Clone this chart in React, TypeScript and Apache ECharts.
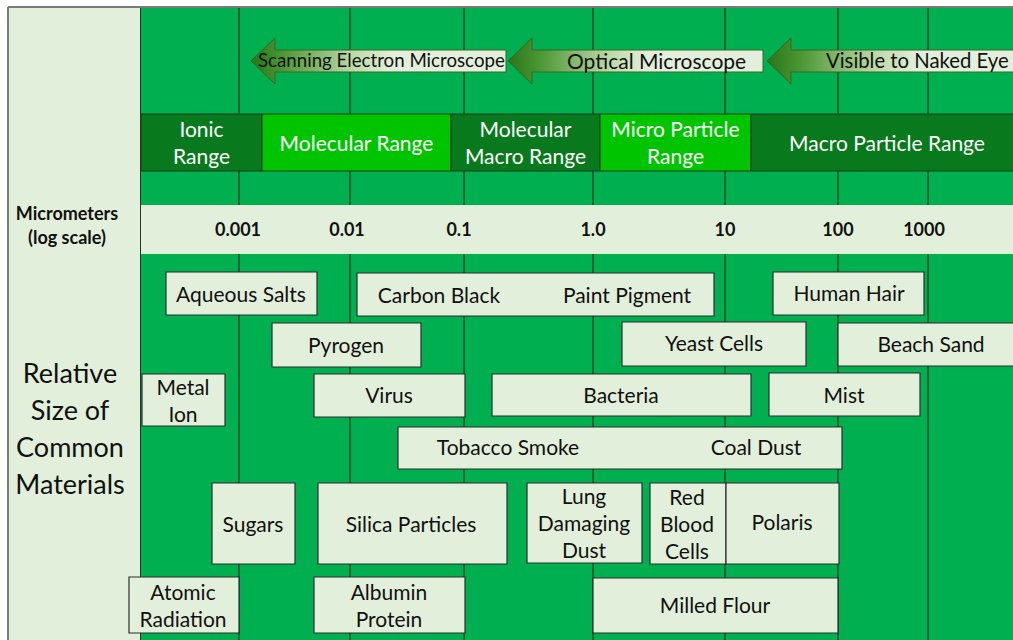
import React, { useEffect, useRef } from "react";
import * as echarts from "echarts";

// ---- Scale (micrometers, log scale) ----
const tickLabels = ["0.001", "0.01", "0.1", "1.0", "10", "100", "1000"];
const gridLineX = [239, 350, 464, 593, 725, 838, 928];
const tickLabelX = [238, 347, 459, 593, 725, 838, 924];

// ---- Size ranges ----
const rangeNames = ["Ionic\nRange", "Molecular Range", "Molecular\nMacro Range", "Micro Particle\nRange", "Macro Particle Range"];
const rangeStart = [141, 262, 451, 600, 751];
const rangeEnd = [262, 451, 600, 751, 1023];
const rangeTone = ["dark", "bright", "dark", "bright", "dark"];

// ---- Observation tools ----
const arrowNames = ["Scanning Electron Microscope", "Optical Microscope", "Visible to Naked Eye"];
const arrowTip = [251, 508, 767];
const arrowEnd = [506, 763, 1040];
const arrowTextStart = [258, 567, 826];

// ---- Common materials: boxes [x0, x1, y0, y1] ----
const boxExtents = [
  [166, 317, 272, 315],
  [357, 714, 273, 316],
  [773, 924, 272, 315],
  [272, 421, 323, 367],
  [622, 806, 322, 366],
  [838, 1030, 323, 366],
  [142, 225, 374, 426],
  [314, 465, 374, 417],
  [492, 751, 374, 416],
  [769, 920, 373, 416],
  [398, 842, 427, 469],
  [212, 295, 483, 564],
  [318, 507, 483, 564],
  [527, 642, 483, 563],
  [650, 726, 483, 564],
  [726, 839, 483, 564],
  [129, 239, 577, 633],
  [314, 465, 577, 633],
  [593, 838, 578, 633],
];

const materialLabels = [
  "Aqueous Salts", "Carbon Black", "Paint Pigment", "Human Hair", "Pyrogen", "Yeast Cells",
  "Beach Sand", "Metal\nIon", "Virus", "Bacteria", "Mist", "Tobacco Smoke", "Coal Dust",
  "Sugars", "Silica Particles", "Lung\nDamaging\nDust", "Red\nBlood\nCells", "Polaris",
  "Atomic\nRadiation", "Albumin\nProtein", "Milled Flour",
];
const labelX = [241, 439, 627, 849, 346, 714, 931, 183, 389, 621, 844, 508, 756, 253, 411, 584, 687, 782, 183, 389, 715];
const labelY = [294, 295, 295, 293, 345, 343, 344, 400, 395, 395, 395, 447, 447, 524, 524, 523, 524, 522, 605, 605, 605];

const FONT = "Lato, 'Open Sans', sans-serif";
const GREEN = "#00b050";
const LIGHT = "#e2efda";

export default function App() {
  const ref = useRef<HTMLDivElement>(null);

  useEffect(() => {
    const chart = echarts.init(ref.current!, null, { renderer: "svg" });
    const toneColor: Record<string, string> = { dark: "#08791c", bright: "#00c400" };
    const arrowFont = (i: number) => (i === 0 ? 18.7 : i === 1 ? 21 : 20.3);

    const option: any = {
      animation: false,
      grid: { left: 0, right: 0, top: 0, bottom: 0 },
      xAxis: { type: "value", min: 0, max: 1013, show: false },
      yAxis: { type: "value", min: 0, max: 640, inverse: true, show: false },
      graphic: [
        { type: "rect", z: 0, shape: { x: 8, y: 7, width: 133, height: 640 }, style: { fill: LIGHT } },
        { type: "rect", z: 0, shape: { x: 141, y: 7, width: 880, height: 640 }, style: { fill: GREEN } },
        { type: "rect", z: 5, shape: { x: 141, y: 205, width: 880, height: 49 }, style: { fill: LIGHT } },
        { type: "line", z: 5, shape: { x1: 140.5, y1: 7, x2: 140.5, y2: 640 }, style: { stroke: "#1e3a1e", lineWidth: 1 } },
        { type: "line", z: 20, shape: { x1: 8, y1: 7, x2: 1013, y2: 7 }, style: { stroke: "#7a7a7a", lineWidth: 2 } },
        { type: "line", z: 20, shape: { x1: 8, y1: 7, x2: 8, y2: 640 }, style: { stroke: "#7a7a7a", lineWidth: 2 } },
        {
          type: "text", z: 50, x: 67, y: 225,
          style: { text: "Micrometers\n(log scale)", font: `bold 18px ${FONT}`, fill: "#111", align: "center", verticalAlign: "middle", lineHeight: 24 },
        },
        {
          type: "text", z: 50, x: 70, y: 428,
          style: { text: "Relative\nSize of\nCommon\nMaterials", font: `27px ${FONT}`, fill: "#111", align: "center", verticalAlign: "middle", lineHeight: 37 },
        },
      ],
      series: [
        {
          type: "custom", z: 1, data: gridLineX.map((x) => [x]),
          renderItem: (params: any, api: any) => {
            const a = api.coord([api.value(0), 8]);
            const b = api.coord([api.value(0), 640]);
            return { type: "line", shape: { x1: a[0], y1: a[1], x2: b[0], y2: b[1] }, style: { stroke: "#1a331a", lineWidth: 1.2 } };
          },
        },
        {
          type: "custom", z: 7, data: tickLabelX.map((x) => [x]),
          renderItem: (params: any, api: any) => {
            const p = api.coord([api.value(0), 228.5]);
            return {
              type: "text", x: p[0], y: p[1],
              style: { text: tickLabels[params.dataIndex], font: `bold 18px ${FONT}`, fill: "#111", align: "center", verticalAlign: "middle" },
            };
          },
        },
        {
          type: "custom", z: 6, data: rangeStart.map((s, i) => [s, rangeEnd[i]]),
          renderItem: (params: any, api: any) => {
            const i = params.dataIndex;
            const a = api.coord([api.value(0), 114]);
            const b = api.coord([api.value(1), 171]);
            return {
              type: "group",
              children: [
                { type: "rect", shape: { x: a[0], y: a[1], width: b[0] - a[0], height: b[1] - a[1] }, style: { fill: toneColor[rangeTone[i]], stroke: "#1b3d1b", lineWidth: 1 } },
                {
                  type: "text", x: (a[0] + b[0]) / 2, y: (a[1] + b[1]) / 2 - 0.5,
                  style: { text: rangeNames[i], font: `21px ${FONT}`, fill: "#ffffff", align: "center", verticalAlign: "middle", lineHeight: 27 },
                },
              ],
            };
          },
        },
        {
          type: "custom", z: 6, data: arrowTip.map((t, i) => [t, arrowEnd[i], arrowTextStart[i]]),
          renderItem: (params: any, api: any) => {
            const i = params.dataIndex;
            const tip = api.value(0);
            const end = api.value(1);
            const head = tip + 24;
            const pts = [
              [tip, 61], [head, 38], [head, 50], [end, 50], [end, 72], [head, 72], [head, 84],
            ].map((p) => api.coord(p));
            const t = api.coord([api.value(2), 60]);
            return {
              type: "group",
              children: [
                {
                  type: "polygon", shape: { points: pts },
                  style: {
                    fill: new echarts.graphic.LinearGradient(0, 0, 1, 0, [
                      { offset: 0, color: "#2a7619" },
                      { offset: 0.12, color: "#4a9632" },
                      { offset: 0.4, color: "#bcdaa8" },
                      { offset: 0.55, color: LIGHT },
                      { offset: 1, color: LIGHT },
                    ]),
                    stroke: "#3a6428", lineWidth: 1,
                  },
                },
                {
                  type: "text", x: t[0], y: t[1],
                  style: { text: arrowNames[i], font: `${arrowFont(i)}px ${FONT}`, fill: "#111", align: "left", verticalAlign: "middle" },
                },
              ],
            };
          },
        },
        {
          type: "custom", z: 8, data: boxExtents,
          renderItem: (params: any, api: any) => {
            const a = api.coord([api.value(0), api.value(2)]);
            const b = api.coord([api.value(1), api.value(3)]);
            return {
              type: "rect", shape: { x: a[0], y: a[1], width: b[0] - a[0], height: b[1] - a[1] },
              style: { fill: LIGHT, stroke: "#2d2d2d", lineWidth: 1.2 },
            };
          },
        },
        {
          type: "custom", z: 9, data: labelX.map((x, i) => [x, labelY[i]]),
          renderItem: (params: any, api: any) => {
            const p = api.coord([api.value(0), api.value(1) - 0.5]);
            return {
              type: "text", x: p[0], y: p[1],
              style: { text: materialLabels[params.dataIndex], font: `21px ${FONT}`, fill: "#111", align: "center", verticalAlign: "middle", lineHeight: 27 },
            };
          },
        },
      ],
    };
    chart.setOption(option);
    return () => chart.dispose();
  }, []);

  return <div ref={ref} style={{ position: "fixed", left: 0, top: 0, width: 1013, height: 640, background: "#ffffff" }} />;
}
